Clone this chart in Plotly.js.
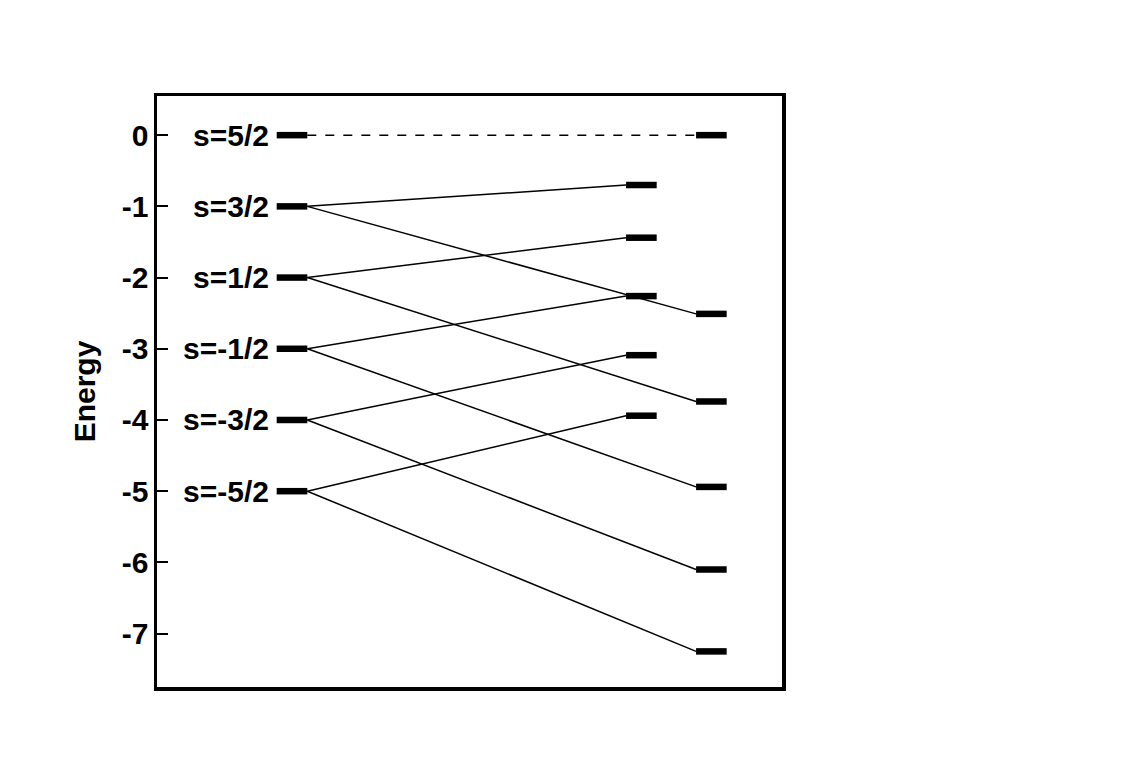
<!DOCTYPE html>
<html>
<head>
<meta charset="utf-8">
<script src="https://cdn.plot.ly/plotly-3.0.1.min.js"></script>
<style>
  html, body { margin: 0; padding: 0; background: #fff; }
  #chart { width: 1144px; height: 769px; }
</style>
</head>
<body>
<div id="chart"></div>
<script>
// spin states and their energies
var spinLabels = ["s=5/2", "s=3/2", "s=1/2", "s=-1/2", "s=-3/2", "s=-5/2"];
var leftLevels = [0, -1, -2, -3, -4, -5];
// middle column: one level per state from s=3/2 down to s=-5/2
var midLevels = [-0.70, -1.44, -2.26, -3.09, -3.94];
// right column: one level per state
var rightLevels = [0, -2.51, -3.74, -4.94, -6.10, -7.25];
var yTicks = [0, -1, -2, -3, -4, -5, -6, -7];

// column layout along x (x axis runs 0..10)
var colLeft = 2.16, colMid = 7.75, colRight = 8.87, halfW = 0.245;

var traces = [];

function level(xc, y) {
  traces.push({
    x: [xc - halfW, xc + halfW], y: [y, y],
    mode: "lines", line: {color: "#000", width: 6.5},
    hoverinfo: "skip", showlegend: false
  });
}

function link(x0, y0, x1, y1, dash) {
  traces.push({
    x: [x0, x1], y: [y0, y1],
    mode: "lines", line: {color: "#000", width: 1.5, dash: dash || "solid"},
    hoverinfo: "skip", showlegend: false
  });
}

// connecting lines first so the levels sit on top
for (var i = 0; i < leftLevels.length; i++) {
  if (i === 0) {
    link(colLeft + halfW, leftLevels[0], colRight - halfW, rightLevels[0], "dash");
  } else {
    link(colLeft + halfW, leftLevels[i], colMid - halfW, midLevels[i - 1]);
    link(colLeft + halfW, leftLevels[i], colRight - halfW, rightLevels[i]);
  }
}

leftLevels.forEach(function (y) { level(colLeft, y); });
midLevels.forEach(function (y) { level(colMid, y); });
rightLevels.forEach(function (y) { level(colRight, y); });

var annotations = spinLabels.map(function (s, i) {
  return {
    x: colLeft - halfW, y: leftLevels[i], xref: "x", yref: "y",
    text: s, showarrow: false, xanchor: "right", yanchor: "middle",
    xshift: -6, font: {size: 30, color: "#000", weight: "bold"}
  };
});

var layout = {
  width: 1144, height: 769,
  margin: {l: 157, r: 362, t: 96, b: 82},
  paper_bgcolor: "#fff", plot_bgcolor: "#fff",
  font: {family: "Arial, 'Liberation Sans', sans-serif", color: "#000", size: 30, weight: "bold"},
  showlegend: false,
  xaxis: {
    range: [0, 10], showgrid: false, zeroline: false,
    showticklabels: false, ticks: "",
    showline: true, linecolor: "#000", linewidth: 3.5, mirror: true
  },
  yaxis: {
    range: [-7.75, 0.55], showgrid: false, zeroline: false,
    tickvals: yTicks, ticktext: yTicks.map(String),
    ticks: "inside", ticklen: 11, tickwidth: 2, tickcolor: "#000",
    tickfont: {size: 30, weight: "bold"}, ticklabelstandoff: -1,
    showline: true, linecolor: "#000", linewidth: 3.5, mirror: true,
    title: {text: "Energy", font: {size: 30, weight: "bold"}, standoff: 18}
  },
  annotations: annotations
};

Plotly.newPlot("chart", traces, layout, {displayModeBar: false, staticPlot: true});
</script>
</body>
</html>
